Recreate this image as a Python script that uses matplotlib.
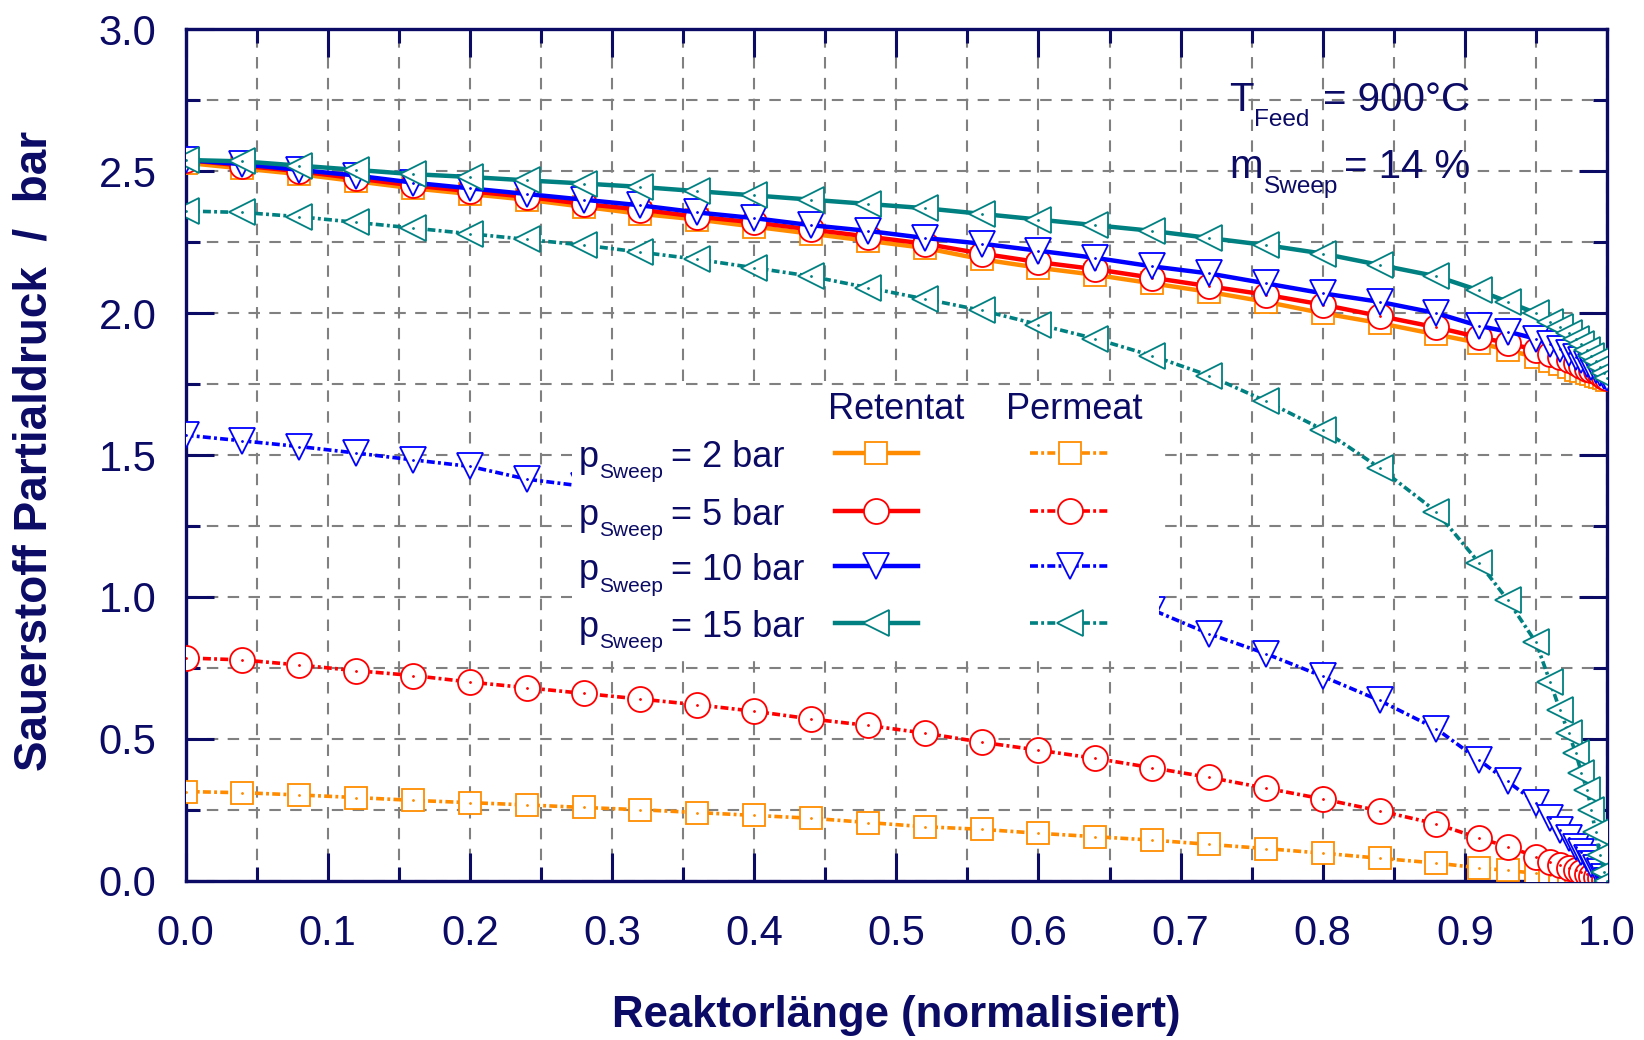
import matplotlib
matplotlib.use("Agg")
import matplotlib.pyplot as plt
from matplotlib.patches import Rectangle
from matplotlib.ticker import MultipleLocator, FormatStrFormatter

plt.rcParams['font.family'] = ['Liberation Sans', 'DejaVu Sans']

# normalised reactor length
x = [0.00, 0.04, 0.08, 0.12, 0.16, 0.20, 0.24, 0.28, 0.32, 0.36, 0.40, 0.44,
     0.48, 0.52, 0.56, 0.60, 0.64, 0.68, 0.72, 0.76, 0.80, 0.84, 0.88, 0.91,
     0.93, 0.95, 0.96, 0.967, 0.973, 0.978, 0.982, 0.986, 0.989, 0.992, 0.995,
     0.998, 1.00]

# retentat (solid)
ret_2 = [2.53, 2.51, 2.49, 2.465, 2.44, 2.42, 2.40, 2.375, 2.35, 2.33, 2.305, 2.28,
         2.255, 2.23, 2.19, 2.16, 2.135, 2.105, 2.075, 2.04, 2.00, 1.965, 1.925, 1.895,
         1.87, 1.845, 1.83, 1.82, 1.81, 1.80, 1.795, 1.79, 1.785, 1.78, 1.775,
         1.77, 1.765]
ret_5 = [2.54, 2.52, 2.50, 2.475, 2.45, 2.43, 2.41, 2.385, 2.365, 2.34, 2.32, 2.295,
         2.27, 2.245, 2.21, 2.18, 2.155, 2.125, 2.095, 2.065, 2.03, 1.99, 1.95, 1.915,
         1.895, 1.87, 1.855, 1.845, 1.835, 1.825, 1.815, 1.805, 1.80, 1.795, 1.785,
         1.775, 1.77]
ret_10 = [2.54, 2.525, 2.505, 2.485, 2.46, 2.44, 2.42, 2.40, 2.38, 2.355, 2.335, 2.31,
          2.29, 2.265, 2.245, 2.22, 2.195, 2.165, 2.14, 2.105, 2.07, 2.04, 2.00, 1.955,
          1.935, 1.91, 1.89, 1.875, 1.86, 1.845, 1.835, 1.82, 1.81, 1.80, 1.79,
          1.78, 1.77]
ret_15 = [2.54, 2.535, 2.52, 2.505, 2.49, 2.48, 2.468, 2.457, 2.445, 2.43, 2.415, 2.40,
          2.385, 2.37, 2.35, 2.33, 2.31, 2.29, 2.265, 2.24, 2.21, 2.17, 2.13, 2.08,
          2.04, 2.00, 1.97, 1.95, 1.93, 1.91, 1.89, 1.87, 1.85, 1.83, 1.81,
          1.79, 1.77]

# permeat (dashed)
per_2 = [0.314, 0.31, 0.302, 0.293, 0.283, 0.275, 0.267, 0.258, 0.25, 0.24, 0.23, 0.22,
         0.205, 0.19, 0.181, 0.167, 0.155, 0.143, 0.128, 0.113, 0.097, 0.079, 0.062, 0.045,
         0.036, 0.026, 0.021, 0.017, 0.014, 0.011, 0.009, 0.007, 0.005, 0.004, 0.002,
         0.001, 0.0]
per_5 = [0.785, 0.778, 0.76, 0.74, 0.723, 0.70, 0.68, 0.66, 0.64, 0.62, 0.597, 0.57,
         0.547, 0.52, 0.488, 0.46, 0.431, 0.398, 0.364, 0.326, 0.288, 0.246, 0.20, 0.15,
         0.12, 0.085, 0.065, 0.055, 0.045, 0.037, 0.03, 0.024, 0.018, 0.013, 0.008,
         0.003, 0.0]
per_10 = [1.57, 1.55, 1.53, 1.507, 1.483, 1.46, 1.415, 1.39, 1.36, 1.33, 1.29, 1.25,
          1.21, 1.17, 1.12, 1.07, 1.015, 0.955, 0.87, 0.80, 0.72, 0.635, 0.535, 0.425,
          0.35, 0.275, 0.22, 0.18, 0.15, 0.12, 0.10, 0.08, 0.06, 0.045, 0.03,
          0.012, 0.0]
per_15 = [2.36, 2.355, 2.34, 2.32, 2.30, 2.28, 2.26, 2.24, 2.215, 2.19, 2.16, 2.13,
          2.09, 2.05, 2.01, 1.96, 1.91, 1.85, 1.78, 1.69, 1.59, 1.455, 1.30, 1.12,
          0.99, 0.84, 0.70, 0.60, 0.52, 0.45, 0.38, 0.32, 0.25, 0.17, 0.09,
          0.03, 0.0]

labels = ['= 2 bar', '= 5 bar', '= 10 bar', '= 15 bar']
colors = ['#FF8C00', '#FF0000', '#0000FF', '#008080']
markers = ['s', 'o', 'v', '<']
msizes = [16, 18, 19, 19]
retentat = [ret_2, ret_5, ret_10, ret_15]
permeat = [per_2, per_5, per_10, per_15]

navy = '#0b0b66'
dash = (0, (2.2, 0.9, 0.8, 0.9))

fig = plt.figure(figsize=(16.44, 10.40), dpi=100)
ax = fig.add_axes([0.1129, 0.1532, 0.8646, 0.8185])

for i in range(4):
    ax.plot(x, permeat[i], color=colors[i], lw=2.6, linestyle=dash,
            marker=markers[i], ms=msizes[i], mfc='white', mec=colors[i], mew=1.3, zorder=3)
    ax.plot(x, permeat[i], linestyle='none', marker='.', ms=2, color=colors[i], zorder=3)
for i in range(4):
    ax.plot(x, retentat[i], color=colors[i], lw=3.2, linestyle='-',
            marker=markers[i], ms=msizes[i], mfc='white', mec=colors[i], mew=1.3, zorder=4)
    ax.plot(x, retentat[i], linestyle='none', marker='.', ms=2, color=colors[i], zorder=4)

ax.set_xlim(0, 1.0)
ax.set_ylim(0, 3.0)
ax.xaxis.set_major_locator(MultipleLocator(0.1))
ax.xaxis.set_minor_locator(MultipleLocator(0.05))
ax.yaxis.set_major_locator(MultipleLocator(0.5))
ax.yaxis.set_minor_locator(MultipleLocator(0.25))
ax.xaxis.set_major_formatter(FormatStrFormatter('%.1f'))
ax.yaxis.set_major_formatter(FormatStrFormatter('%.1f'))
ax.set_axisbelow(True)
ax.grid(True, which='both', color='#808080', lw=1.5, linestyle=(0, (5.5, 4.5)))

ax.tick_params(which='both', direction='in', top=True, right=True, color=navy, width=2.2,
               labelcolor=navy, labelsize=30)
ax.tick_params(which='major', length=20)
ax.tick_params(which='minor', length=10)
ax.tick_params(axis='x', pad=24)
ax.tick_params(axis='y', pad=21)
for sp in ax.spines.values():
    sp.set_color(navy)
    sp.set_linewidth(2.4)

ax.set_xlabel('Reaktorlänge (normalisiert)', fontsize=31.5, fontweight='bold', color=navy)
ax.xaxis.set_label_coords(0.5, -0.158)
ax.xaxis.label.set_va('center')
ax.set_ylabel('Sauerstoff Partialdruck  /  bar', fontsize=33, fontweight='bold', color=navy)
ax.yaxis.set_label_coords(-0.106, 0.505)
ax.yaxis.label.set_va('center')

# conditions (symbol, subscript, value)
ax.text(0.734, 2.711, 'T', fontsize=29, color=navy, va='baseline')
ax.text(0.7515, 2.711 - 0.053, 'Feed', fontsize=17.6, color=navy, va='baseline')
ax.text(0.800, 2.711, '= 900°C', fontsize=29, color=navy, va='baseline')
ax.text(0.734, 2.476, 'm', fontsize=29, color=navy, va='baseline')
ax.text(0.7589, 2.476 - 0.053, 'Sweep', fontsize=17.6, color=navy, va='baseline')
ax.text(0.8149, 2.476, '= 14 %', fontsize=29, color=navy, va='baseline')

# legend block
ax.add_patch(Rectangle((0.272, 0.775), 0.413, 0.96, facecolor='white', edgecolor='none', zorder=5))
ax.text(0.50, 1.662, 'Retentat', fontsize=26, color=navy, ha='center', va='center', zorder=7)
ax.text(0.625, 1.662, 'Permeat', fontsize=26, color=navy, ha='center', va='center', zorder=7)
row_y = [1.507, 1.304, 1.108, 0.909]
for i in range(4):
    yb = row_y[i] - 0.05
    ax.text(0.2765, yb, 'p', fontsize=26, color=navy, va='baseline', zorder=7)
    ax.text(0.2906, yb - 0.039, 'Sweep', fontsize=15, color=navy, va='baseline', zorder=7)
    ax.text(0.3414, yb, labels[i], fontsize=26, color=navy, va='baseline', zorder=7)
    ax.plot([0.457, 0.5155], [row_y[i], row_y[i]], color=colors[i], lw=3.2, zorder=6)
    ax.plot([0.486], [row_y[i]], marker=markers[i], ms=msizes[i], mfc='white',
            mec=colors[i], mew=1.3, linestyle='none', zorder=7)
    ax.plot([0.594, 0.65], [row_y[i], row_y[i]], color=colors[i], lw=2.6, linestyle=dash,
            zorder=6)
    ax.plot([0.622], [row_y[i]], marker=markers[i], ms=msizes[i], mfc='white',
            mec=colors[i], mew=1.3, linestyle='none', zorder=7)

fig.savefig('out.png', dpi=100)
